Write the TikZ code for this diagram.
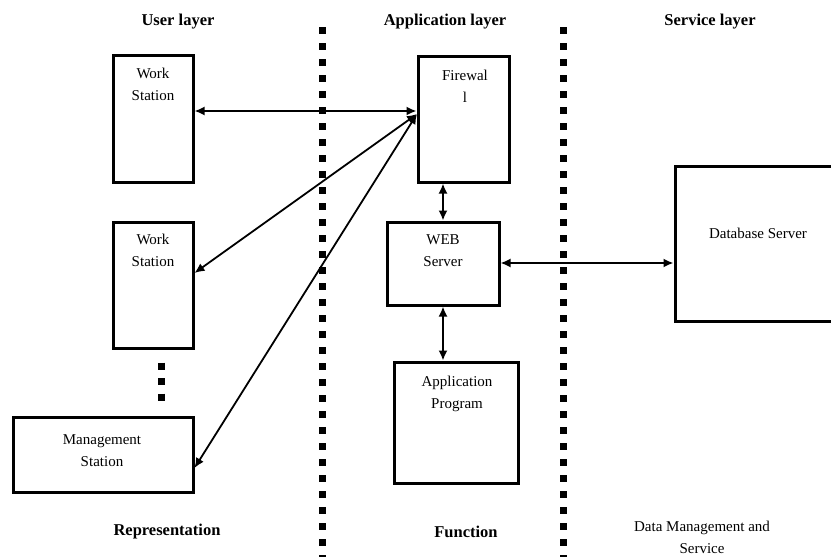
\documentclass[tikz,border=0pt]{standalone}
\usepackage{fontspec}
\setmainfont{Liberation Serif}
\usetikzlibrary{arrows.meta}
\begin{document}
\begin{tikzpicture}[x=1pt,y=-1pt,
  box/.style={draw,line width=3pt,rectangle,inner sep=0pt,anchor=center},
  txt/.style={font=\fontsize{15}{22}\selectfont,align=center,inner sep=0pt},
  head/.style={font=\fontsize{16.5}{20}\selectfont\bfseries,inner sep=0pt},
  sep/.style={line width=7pt,dash pattern=on 7pt off 9pt},
  link/.style={line width=1.8pt,{Latex[length=10pt,width=9pt]}-{Latex[length=10pt,width=9pt]}}]
\useasboundingbox (0,0) rectangle (831,557);
% separators
\draw[sep] (322,27) -- (322,560);
\draw[sep] (563,27) -- (563,560);
% headers
\node[head] (h1) at (178,22) {User layer};
\node[head] (h2) at (445,22) {Application layer};
\node[head] (h3) at (710,22) {Service layer};
\node[head] (f1) at (167,532) {Representation};
\node[head] (f2) at (466,532) {Function};
\node[txt] (f3) at (702,537) {Data Management and\\Service};
% boxes
\node[box,minimum width=80pt,minimum height=127pt] (ws1) at (153,118.5) {};
\node[txt] (ws1t) at (153,84) {Work\\Station};
\node[box,minimum width=80pt,minimum height=126pt] (ws2) at (153,285) {};
\node[txt] (ws2t) at (153,250) {Work\\Station};
\node[box,minimum width=180pt,minimum height=75pt] (ms) at (103,454.5) {};
\node[txt] (mst) at (102,450.5) {Management\\Station};
\node[box,minimum width=91pt,minimum height=126pt] (fw) at (463.5,119) {};
\node[txt] (fwt) at (465,86) {Firewal\\l};
\node[box,minimum width=112pt,minimum height=83pt] (web) at (443,263.5) {};
\node[txt] (webt) at (443,250.5) {WEB\\Server};
\node[box,minimum width=124pt,minimum height=121pt] (app) at (456,422.5) {};
\node[txt] (appt) at (457,393.5) {Application\\Program};
\node[box,minimum width=170pt,minimum height=155pt] (db) at (760,243.5) {};
\node[txt] (dbt) at (758,233) {Database Server};
% ellipsis
\draw[line width=7pt,dash pattern=on 7pt off 8.5pt] (161,362.5) -- (161,401);
% connectors
\coordinate (fwp) at (417,114);
\draw[link] (ws1.east |- 0,111) -- (fw.west |- 0,111);
\draw[link] (ws2.east |- 0,273) -- (fwp);
\draw[link] (ms.east |- 0,468) -- (fwp);
\draw[link] (fw.south -| 443,0) -- (web.north -| 443,0);
\draw[link] (web.south -| 443,0) -- (app.north -| 443,0);
\draw[link] (web.east |- 0,263) -- (db.west |- 0,263);
\end{tikzpicture}
\end{document}
